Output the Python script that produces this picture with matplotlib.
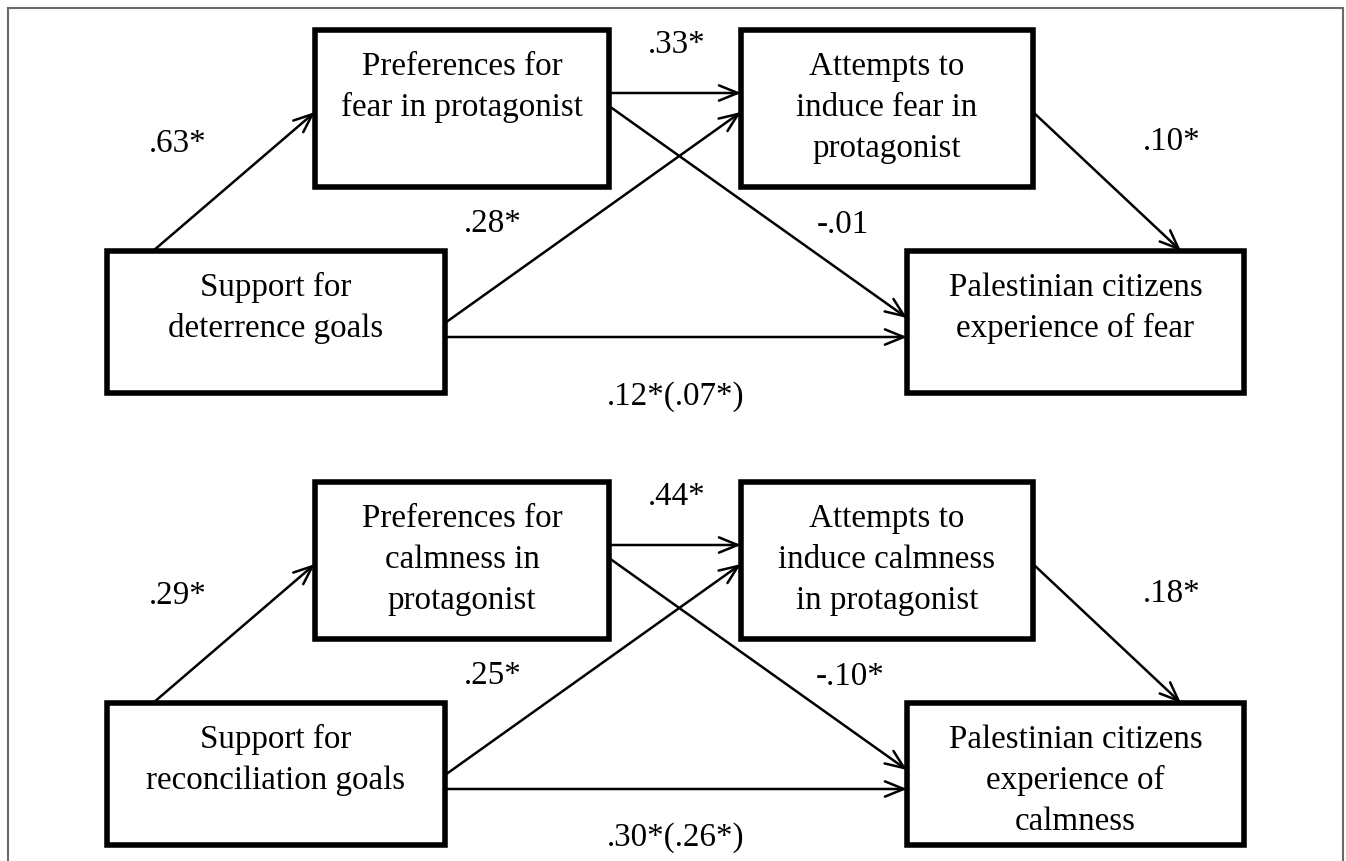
import matplotlib
matplotlib.use("Agg")
import matplotlib.pyplot as plt
from matplotlib.patches import Rectangle

# ---- diagram content -------------------------------------------------------
panel_names = ["fear", "calmness"]

mediator1_labels = ["Preferences for\nfear in protagonist",
                    "Preferences for\ncalmness in\nprotagonist"]
mediator2_labels = ["Attempts to\ninduce fear in\nprotagonist",
                    "Attempts to\ninduce calmness\nin protagonist"]
predictor_labels = ["Support for\ndeterrence goals",
                    "Support for\nreconciliation goals"]
outcome_labels = ["Palestinian citizens\nexperience of fear",
                  "Palestinian citizens\nexperience of\ncalmness"]

# path coefficients per panel
coef_x_m1 = [".63*", ".29*"]
coef_m1_m2 = [".33*", ".44*"]
coef_x_m2 = [".28*", ".25*"]
coef_m1_y = ["-.01", "-.10*"]
coef_m2_y = [".10*", ".18*"]
coef_x_y = [".12*(.07*)", ".30*(.26*)"]

# ---- layout (pixel coordinates, y grows downward) --------------------------
W, H = 1346, 861
panel_offset = [0, 452]
box_m1 = (315, 30, 609, 187)      # x0, y0, x1, y1
box_m2 = (741, 30, 1033, 187)
box_x = (107, 251, 445, 393)
box_y = (907, 251, 1244, 393)

FONT = "Liberation Serif"
FS = 23.8
LINE_H = 41
BOX_LW = 4.0
ARROW_LW = 1.8

fig = plt.figure(figsize=(W / 100, H / 100), dpi=100)
ax = fig.add_axes([0, 0, 1, 1])
ax.set_xlim(0, W)
ax.set_ylim(H, 0)
ax.axis("off")

# outer frame (left, top, right edges)
ax.plot([8, 8, 1343, 1343], [H + 5, 8, 8, H + 5], color="#6a6a6a", lw=1.5,
        solid_joinstyle="miter")


def draw_box(b, text, dy):
    x0, y0, x1, y1 = b
    ax.add_patch(Rectangle((x0, y0 + dy), x1 - x0, y1 - y0, fill=False,
                           ec="black", lw=BOX_LW, joinstyle="miter"))
    cx = (x0 + x1) / 2
    for i, line in enumerate(text.split("\n")):
        ax.text(cx, y0 + dy + 45 + i * LINE_H, line, ha="center",
                va="baseline", fontsize=FS, family=FONT)


def arrow(start, end, dy):
    ax.annotate("", xy=(end[0], end[1] + dy), xytext=(start[0], start[1] + dy),
                arrowprops=dict(arrowstyle="->,head_length=1.35,head_width=0.55",
                                lw=ARROW_LW, color="black",
                                shrinkA=0, shrinkB=0))


def label(x, y, s, dy):
    ax.text(x, y + dy, s, ha="center", va="baseline", fontsize=FS,
            family=FONT)


for p in range(len(panel_names)):
    dy = panel_offset[p]
    draw_box(box_m1, mediator1_labels[p], dy)
    draw_box(box_m2, mediator2_labels[p], dy)
    draw_box(box_x, predictor_labels[p], dy)
    draw_box(box_y, outcome_labels[p], dy)

    arrow((153, 251), (315, 112), dy)       # X -> M1
    arrow((609, 93), (741, 93), dy)         # M1 -> M2
    arrow((609, 106), (907, 318), dy)       # M1 -> Y
    arrow((445, 323), (741, 112), dy)       # X -> M2
    arrow((445, 337), (907, 337), dy)       # X -> Y
    arrow((1033, 112), (1181, 251), dy)     # M2 -> Y

    label(178, 152, coef_x_m1[p], dy)
    label(677, 53, coef_m1_m2[p], dy)
    label(493, 232, coef_x_m2[p], dy)
    label(843 if p == 0 else 850, 233, coef_m1_y[p], dy)
    label(1172, 150, coef_m2_y[p], dy)
    label(676, 405 if p == 0 else 394, coef_x_y[p], dy)

fig.savefig("out.png", dpi=100, facecolor="white")
